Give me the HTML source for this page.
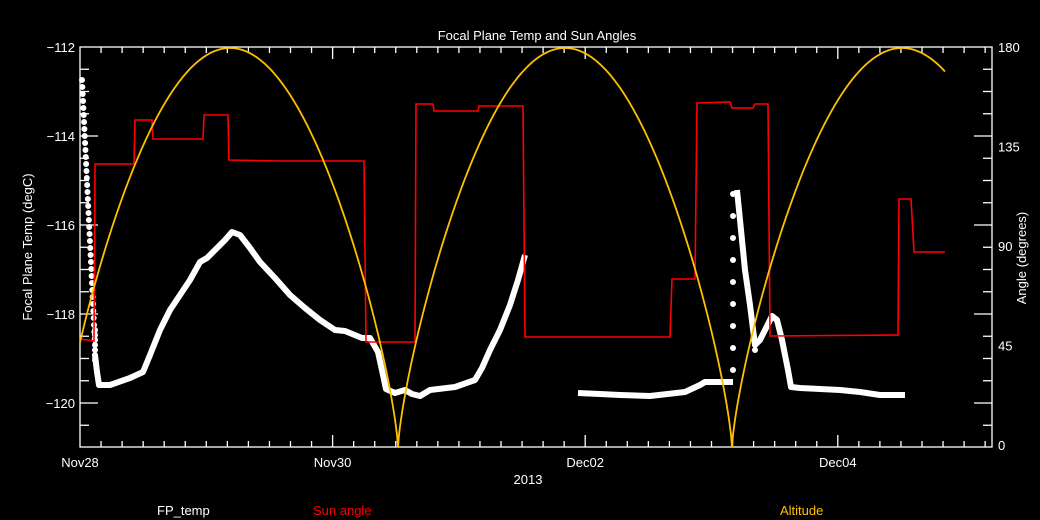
<!DOCTYPE html>
<html><head><meta charset="utf-8"><style>
html,body{margin:0;padding:0;background:#000;width:1040px;height:520px;overflow:hidden}
svg{display:block}
text{font-family:"Liberation Sans","DejaVu Sans",sans-serif;font-size:13px;fill:#fff}
</style></head><body>
<svg id="s" width="1040" height="520" xmlns="http://www.w3.org/2000/svg">
<rect width="1040" height="520" fill="#000"/>
<text x="537" y="40" text-anchor="middle">Focal Plane Temp and Sun Angles</text>
<g id="ax" stroke="#fff" stroke-width="1.3" fill="none">
<rect x="80" y="47" width="912" height="400"/>
</g>
<g id="lbl"></g>
<text x="528" y="484" text-anchor="middle">2013</text>
<text transform="translate(32,247) rotate(-90)" text-anchor="middle">Focal Plane Temp (degC)</text>
<text transform="translate(1026,258) rotate(-90)" text-anchor="middle">Angle (degrees)</text>
<text x="157" y="515">FP_temp</text>
<text x="313" y="515" style="fill:#ff0000">Sun angle</text>
<text x="780" y="515" style="fill:#ffc000">Altitude</text>
<g id="white" stroke="#fff" fill="#fff"></g>
<polyline fill="none" stroke="#ff0000" stroke-width="1.6" points="80,339 94,341 95,164 134,164 135,120 152,120 153,139 203,139 204,115 228,115 229,160 280,161 364,161 366,342 415,342 416,104 433,104 434,111 478,111 479,106 523,106 525,337 670,337 672,279 695,279 697,103 730,102 732,108 753,108 755,104 768,104 770,336 898,335 899,199 911,199 914,252 945,252"/>
<polyline id="alt" fill="none" stroke="#ffc000" stroke-width="1.8" points=""/>
</svg>
<script>
var s=document.getElementById('ax'),L=document.getElementById('lbl'),ns="http://www.w3.org/2000/svg";
function ln(x1,y1,x2,y2){var e=document.createElementNS(ns,'line');e.setAttribute('x1',x1);e.setAttribute('y1',y1);e.setAttribute('x2',x2);e.setAttribute('y2',y2);s.appendChild(e);}
function tx(x,y,t,a){var e=document.createElementNS(ns,'text');e.setAttribute('x',x);e.setAttribute('y',y);if(a)e.setAttribute('text-anchor',a);e.textContent=t;L.appendChild(e);}
var d=126.3;
for(var i=1;i<44;i++){var x=80+i*d/6;if(x>992)break;var m=(i%12==0);var h=m?12:6;ln(x,447,x,447-h);ln(x,47,x,47+h);}
var dl=["Nov28","Nov30","Dec02","Dec04"];for(var i=0;i<4;i++)tx(80+i*2*d,467,dl[i],"middle");
for(var i=1;i<18;i++){var y=47+i*22.25;var m=(i%4==0);var h=m?18:9;ln(80,y,80+h,y);ln(992,y,992-h,y);}
var tl=["\u2212112","\u2212114","\u2212116","\u2212118","\u2212120"];for(var i=0;i<5;i++)tx(75,52+i*89,tl[i],"end");
var rl=["180","135","90","45","0"];for(var i=0;i<5;i++)tx(998,52+i*99.5,rl[i]);
// altitude
var pts=[];var segs=[[62,398],[398,732],[732,1072]];
for(var x=80;x<=945;x+=1){var sg=x<398?segs[0]:(x<732?segs[1]:segs[2]);var v=Math.pow(Math.abs(Math.sin(Math.PI*(x-sg[0])/(sg[1]-sg[0]))),0.75);pts.push(x+","+(447-399*v).toFixed(1));}
document.getElementById('alt').setAttribute('points',pts.join(' '));
// white band
var W=document.getElementById('white');
function band(p){var e=document.createElementNS(ns,'polyline');e.setAttribute('points',p);e.setAttribute('fill','none');e.setAttribute('stroke-width','6');e.setAttribute('stroke-linejoin','round');W.appendChild(e);}
band("95,355 97,372 99,385 110,385 130,378 143,372 150,355 160,330 170,310 180,295 190,280 200,262 207,258 215,250 225,240 232,232 240,235 250,248 260,262 275,278 290,295 305,308 320,320 335,330 345,331 362,338 370,338 378,352 383,375 386,389 395,393 405,390 412,394 420,396 430,390 455,387 475,380 482,368 490,350 500,330 510,305 518,280 525,255");
band("578,393 600,394 620,395 650,396 685,392 700,385 705,382 733,382");
band("737,190 741,230 745,270 750,305 755,345 760,340 765,330 772,316 777,320 782,340 788,370 791,387 800,388 820,389 840,390 860,392 880,395 905,395");
function ast(x,y){var e=document.createElementNS(ns,'circle');e.setAttribute('cx',x);e.setAttribute('cy',y);e.setAttribute('r','2.5');W.appendChild(e);}
for(var y=80;y<345;y+=7){ast(82+(y-80)*13/265,y);}
for(var y=330;y<362;y+=5)ast(95,y);
for(var y=370;y>190;y-=22)ast(733,y);
for(var y=340;y<352;y+=5)ast(755,y);
</script>
</body></html>
